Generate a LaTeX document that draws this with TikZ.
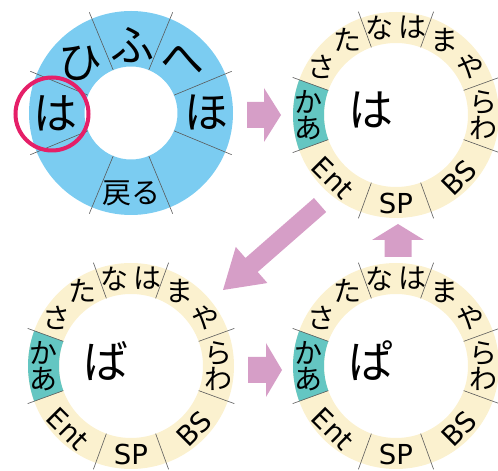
\documentclass[tikz,border=0pt]{standalone}
\usepackage{fontspec}
\newfontfamily\jpfont{Noto Sans CJK JP}
\newfontfamily\latfont{DejaVu Sans}
\definecolor{ringblue}{RGB}{123,204,241}
\definecolor{ringcream}{RGB}{251,241,207}
\definecolor{ringteal}{RGB}{100,198,194}
\definecolor{arrowpink}{RGB}{214,158,199}
\definecolor{selred}{RGB}{229,31,104}
\tikzset{
  divider/.style={draw=black!65, line width=0.6pt},
  bigkana/.style={font=\jpfont\fontsize{44}{44}\selectfont, inner sep=0pt},
  kana/.style={font=\jpfont\fontsize{28}{28}\selectfont, inner sep=0pt},
  latin/.style={font=\latfont\fontsize{27.5}{27.5}\selectfont, inner sep=0pt},
  centerkana/.style={font=\jpfont\fontsize{45}{45}\selectfont, inner sep=0pt},
  blockarrow/.style={fill=arrowpink},
  cring/.pic={
    \fill[ringcream, even odd rule] (0,0) circle (103pt) (0,0) circle (72pt);
    \fill[ringteal] (160:103pt) arc[start angle=160, end angle=200, radius=103pt]
      -- (200:72pt) arc[start angle=200, end angle=160, radius=72pt] -- cycle;
    \foreach \a in {20,70,110,160,200,250,290,340}
      \draw[divider] (\a:72pt) -- (\a:110pt);
    \node[kana] (-na) at (101:89pt) {な};
    \node[kana] (-ha) at (79:89pt) {は};
    \node[kana] (-ma) at (57:89pt) {ま};
    \node[kana] (-ya) at (33:89pt) {や};
    \node[kana] (-ra) at (8.5:88pt) {ら};
    \node[kana] (-wa) at (-8.5:88pt) {わ};
    \node[kana] (-ka) at (171.5:88pt) {か};
    \node[kana] (-a) at (188.5:88pt) {あ};
    \node[kana] (-sa) at (147:89pt) {さ};
    \node[kana] (-ta) at (123:89pt) {た};
    \node[latin, rotate=-45] (-ent) at (225:89pt) {Ent};
    \node[latin] (-sp) at (270:88pt) {SP};
    \node[latin, rotate=45] (-bs) at (315:89pt) {BS};
    \node[centerkana] (-c) at (-25,5) {#1};
  }
}
\begin{document}
\begin{tikzpicture}[x=1pt,y=1pt]
\useasboundingbox (0,0) rectangle (498,471);
% blue selection ring
\begin{scope}[shift={(131,358)}]
  \fill[ringblue, even odd rule] (0,0) circle (102pt) (0,0) circle (46.5pt);
  \foreach \a in {22.5,67.5,...,337.5}
    \draw[divider] (\a:46.5pt) -- (\a:109pt);
  \node[bigkana] (hi) at (135.5:71pt) {ひ};
  \node[bigkana] (fu) at (89:68pt) {ふ};
  \node[bigkana] (he) at (45.5:74pt) {へ};
  \node[bigkana] (ho) at (0.5:76pt) {ほ};
  \node[bigkana] (ha) at (180:76pt) {は};
  \node[font=\jpfont\fontsize{29}{29}\selectfont, inner sep=0pt] (modoru) at (270:80pt) {戻る};
\end{scope}
\node[draw=selred, line width=4pt, circle, minimum size=73pt, inner sep=0pt] (sel) at (52,357) {};
% cream rings
\pic (tr) at (396,356) {cring=は};
\pic (bl) at (131,105) {cring=ば};
\pic (br) at (396,105) {cring=ぱ};
% arrows
\fill[blockarrow, shift={(281,356)}] (0,0) -- (-17,27) -- (-17,13) -- (-34,13) -- (-34,-13) -- (-17,-13) -- (-17,-27) -- cycle;
\fill[blockarrow, shift={(282,101)}] (0,0) -- (-16,27) -- (-16,13) -- (-34,13) -- (-34,-13) -- (-16,-13) -- (-16,-27) -- cycle;
\fill[blockarrow, shift={(398,247)}, rotate=90] (0,0) -- (-16,26) -- (-16,13.5) -- (-33,13.5) -- (-33,-13.5) -- (-16,-13.5) -- (-16,-26) -- cycle;
\fill[blockarrow, shift={(223,181)}, rotate=221.2] (0,0) -- (-38,24) -- (-38,9.3) -- (-129,9.3) -- (-129,-9.3) -- (-38,-9.3) -- (-38,-24) -- cycle;
\end{tikzpicture}
\end{document}
